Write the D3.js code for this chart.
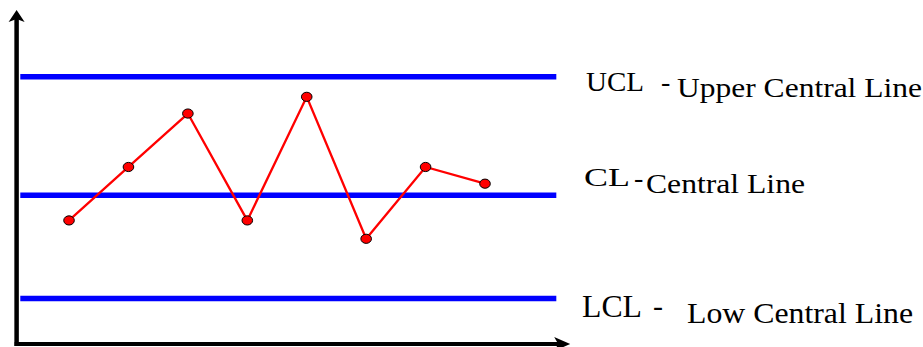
<!DOCTYPE html>
<html><head><meta charset="utf-8">
<script src="https://cdn.jsdelivr.net/npm/d3@7"></script>
<style>html,body{margin:0;padding:0;background:#fff;}svg{display:block;}</style>
</head><body>
<svg id="chart" width="923" height="347"></svg>
<script>
// ---- data ----
const samples = [1, 2, 3, 4, 5, 6, 7, 8];
const values = [37, 53, 69, 37, 74, 31.5, 53, 48];
const limitNames = ["UCL", "CL", "LCL"];
const limitValues = [80, 44.5, 13.6];
const limitDescriptions = ["Upper Central Line", "Central Line", "Low Central Line"];

const svg = d3.select("#chart");
const x = d3.scaleLinear().domain([0, 9.4]).range([9.6, 568.2]);
const y = d3.scaleLinear().domain([0, 100]).range([344, 10]);

// axes with arrows
const x0 = 16.6, yBase = y(0);
svg.append("line").attr("x1", x0).attr("x2", x0).attr("y1", yBase + 2).attr("y2", y(100) + 8)
  .attr("stroke", "#000").attr("stroke-width", 4.5);
svg.append("path").attr("d", `M${x0},${y(100)} L${x0 - 8},${y(100) + 12} L${x0},${y(100) + 9} L${x0 + 8},${y(100) + 12} Z`)
  .attr("fill", "#000");
svg.append("line").attr("x1", x0 - 2).attr("x2", x(9.4) - 8).attr("y1", yBase).attr("y2", yBase)
  .attr("stroke", "#000").attr("stroke-width", 4);
svg.append("path").attr("d", `M${x(9.4) + 2},${yBase} L${x(9.4) - 14},${yBase - 7} L${x(9.4) - 10},${yBase} L${x(9.4) - 14},${yBase + 7} Z`)
  .attr("fill", "#000");

// control limit lines
svg.selectAll("line.limit").data(limitValues).join("line").attr("class", "limit")
  .attr("x1", x(0.18)).attr("x2", x(9.2))
  .attr("y1", d => y(d)).attr("y2", d => y(d))
  .attr("stroke", "#0000ff").attr("stroke-width", 5.5);

// series
const pts = samples.map((s, i) => [s, values[i]]);
svg.append("path").datum(pts)
  .attr("d", d3.line().x(d => x(d[0])).y(d => y(d[1])))
  .attr("fill", "none").attr("stroke", "#ff0000").attr("stroke-width", 2.3);
svg.selectAll("ellipse.pt").data(pts).join("ellipse").attr("class", "pt")
  .attr("cx", d => x(d[0])).attr("cy", d => y(d[1]))
  .attr("rx", 5.3).attr("ry", 4.6)
  .attr("fill", "#ff0000").attr("stroke", "#000").attr("stroke-width", 1);

// labels
const font = "'Liberation Serif', 'Times New Roman', serif";
const labelSpec = [
  {abbr: {x: 586, y: 91, s: 28, w: 58}, dash: {x: 661, y: 91, s: 28}, desc: {x: 677, y: 97, s: 28, w: 245}},
  {abbr: {x: 584, y: 186, s: 26, w: 46}, dash: {x: 634, y: 187, s: 28}, desc: {x: 646, y: 193, s: 27, w: 159}},
  {abbr: {x: 582, y: 317, s: 31, w: 60}, dash: {x: 653, y: 316, s: 30}, desc: {x: 687, y: 323, s: 30, w: 226}}
];
labelSpec.forEach((sp, i) => {
  svg.append("text").attr("x", sp.abbr.x).attr("y", sp.abbr.y)
    .attr("font-family", font).attr("font-size", sp.abbr.s)
    .attr("textLength", sp.abbr.w).attr("lengthAdjust", "spacingAndGlyphs")
    .attr("fill", "#000").text(limitNames[i]);
  svg.append("text").attr("x", sp.dash.x).attr("y", sp.dash.y)
    .attr("font-family", font).attr("font-size", sp.dash.s)
    .attr("fill", "#000").text("-");
  svg.append("text").attr("x", sp.desc.x).attr("y", sp.desc.y)
    .attr("font-family", font).attr("font-size", sp.desc.s)
    .attr("textLength", sp.desc.w).attr("lengthAdjust", "spacingAndGlyphs")
    .attr("fill", "#000").text(limitDescriptions[i]);
});
</script>
</body></html>
